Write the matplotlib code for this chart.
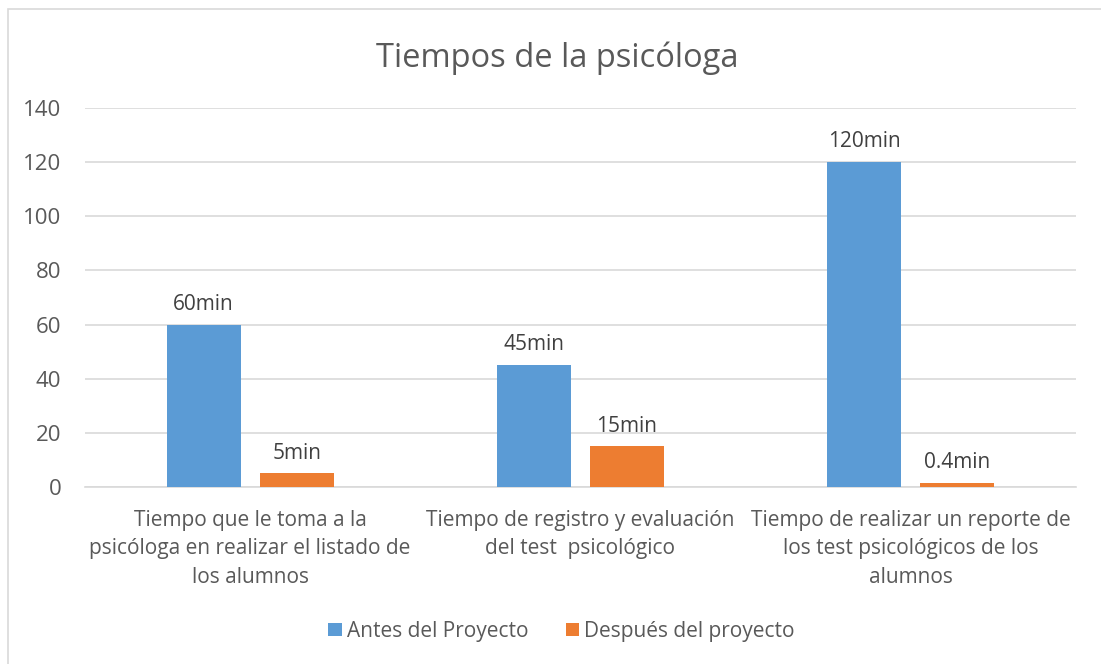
import numpy as np
import matplotlib
matplotlib.use("Agg")
import matplotlib.pyplot as plt
from matplotlib.patches import Rectangle

plt.rcParams['font.family'] = ['Open Sans', 'DejaVu Sans']

categorias = ["Tiempo que le toma a la\npsicóloga en realizar el listado de\nlos alumnos",
              "Tiempo de registro y evaluación\ndel test  psicológico",
              "Tiempo de realizar un reporte de\nlos test psicológicos de los\nalumnos"]
antes = [60, 45, 120]
despues = [5, 15, 1.5]
etiquetas_antes = ["60min", "45min", "120min"]
etiquetas_despues = ["5min", "15min", "0.4min"]
series = ["Antes del Proyecto", "Después del proyecto"]
yticks = [0, 20, 40, 60, 80, 100, 120, 140]

azul = '#5B9BD5'
naranja = '#ED7D31'
gris_texto = '#595959'
gris_linea = '#D9D9D9'

fig = plt.figure(figsize=(11.01, 6.64), dpi=100)
ax = fig.add_axes([0.0772, 0.2666, 0.9, 0.5708])

x = np.arange(len(categorias))
w = 0.224
b1 = ax.bar(x - 0.141, antes, w, color=azul, label=series[0], zorder=3)
b2 = ax.bar(x + 0.141, despues, w, color=naranja, label=series[1], zorder=3)

# etiquetas de datos
for rect, txt in zip(b1, etiquetas_antes):
    ax.annotate(txt, (rect.get_x() + rect.get_width() / 2, rect.get_height()),
                xytext=(0, 7), textcoords='offset points', ha='center', va='bottom',
                fontsize=15, color='#404040')
for rect, txt in zip(b2, etiquetas_despues):
    ax.annotate(txt, (rect.get_x() + rect.get_width() / 2, rect.get_height()),
                xytext=(0, 7), textcoords='offset points', ha='center', va='bottom',
                fontsize=15, color='#404040')

ax.set_xlim(-0.5, 2.5)
ax.set_ylim(0, 140)
ax.set_yticks(yticks)
ax.set_xticks(x)
ax.set_xticklabels(categorias, fontsize=15, color=gris_texto, linespacing=1.47)
ax.tick_params(axis='y', labelsize=16, labelcolor=gris_texto, length=0, pad=17)
ax.tick_params(axis='x', length=0, pad=16.5)
ax.grid(axis='y', color=gris_linea, linewidth=1.2, zorder=0)
for s in ['top', 'right', 'left']:
    ax.spines[s].set_visible(False)
ax.spines['bottom'].set_color(gris_linea)
ax.spines['bottom'].set_linewidth(1.2)

fig.text(0.506, 0.913, "Tiempos de la psicóloga", ha='center', va='center',
         fontsize=23.5, color=gris_texto)

fig.legend(handles=[b1, b2], labels=series, loc='center', bbox_to_anchor=(0.51, 0.049),
           ncol=2, frameon=False, fontsize=15, labelcolor=gris_texto,
           handlelength=0.63, handleheight=0.63, handletextpad=0.25, columnspacing=1.8)

# marco del gráfico
fig.patches.append(Rectangle((8 / 1101, -0.05), 1.2, 1.05 - 9 / 664,
                             transform=fig.transFigure, fill=False,
                             edgecolor=gris_linea, linewidth=1.2))

fig.savefig("out.png", dpi=100)
